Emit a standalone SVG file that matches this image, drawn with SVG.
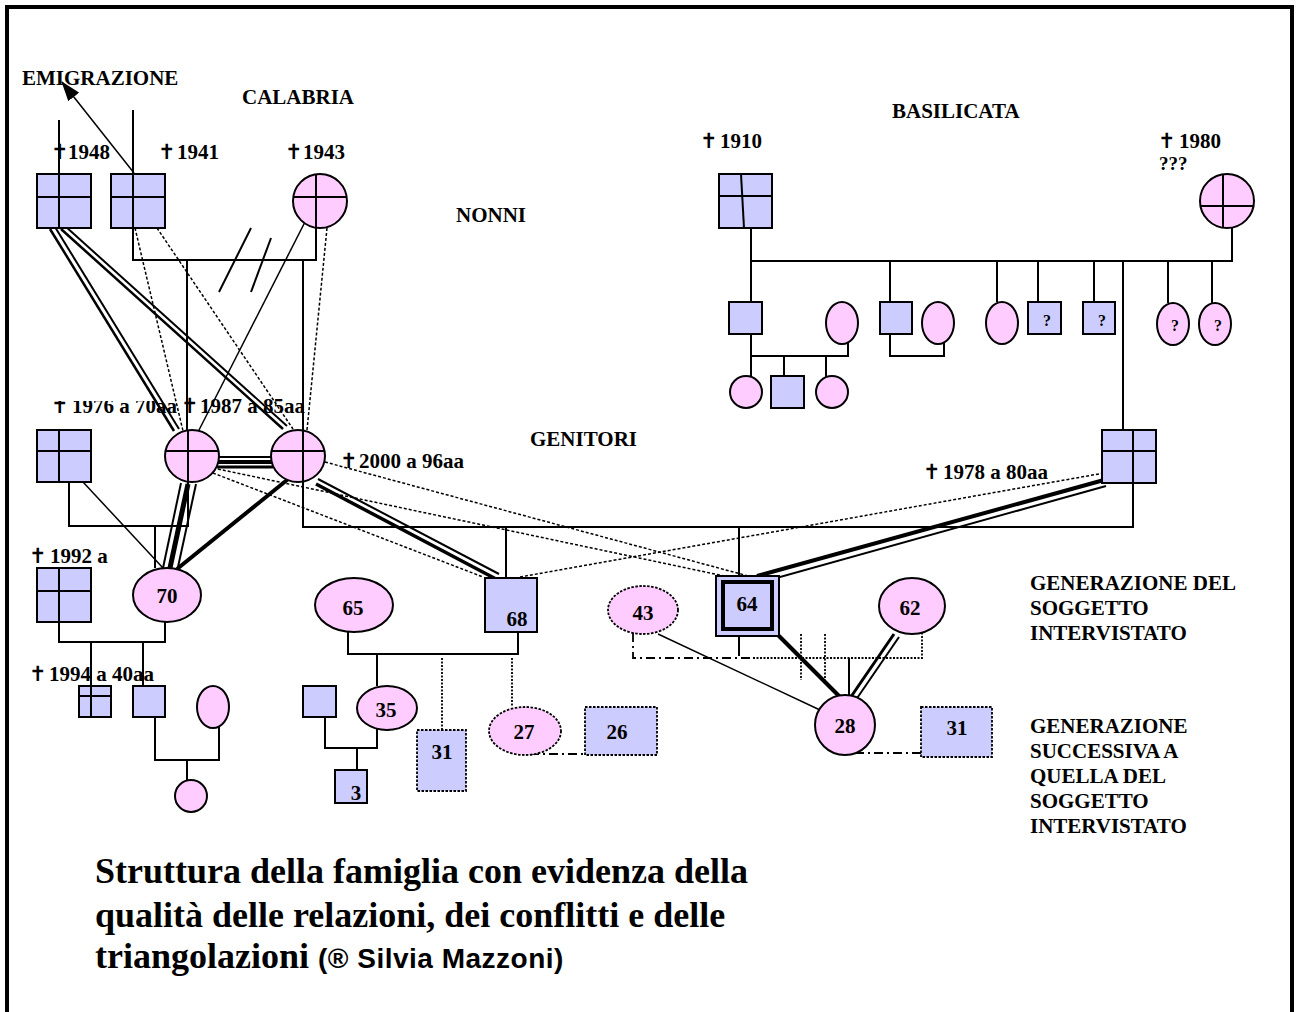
<svg xmlns="http://www.w3.org/2000/svg" width="1299" height="1012" viewBox="0 0 1299 1012">
<defs>
<style>
.m{fill:#CCCCFF;stroke:#000;stroke-width:2}
.f{fill:#FFCCFF;stroke:#000;stroke-width:2}
.md{fill:#CCCCFF;stroke:#000;stroke-width:1.8;stroke-dasharray:2.5,1.5}
.fd{fill:#FFCCFF;stroke:#000;stroke-width:1.8;stroke-dasharray:2.5,1.5}
.l{fill:none;stroke:#000;stroke-width:2}
.in{fill:none;stroke:#000;stroke-width:2}
.th{fill:none;stroke:#000;stroke-width:1.5}
.dl{fill:none;stroke:#000;stroke-width:1.5;stroke-dasharray:3,2}
.dt{fill:none;stroke:#000;stroke-width:1.8;stroke-dasharray:2,1.5}
.dd{fill:none;stroke:#000;stroke-width:1.8;stroke-dasharray:9,4,2,4}
.t{font-family:"Liberation Serif","Times New Roman",serif;font-weight:bold;font-size:21px;fill:#000}
.n{font-family:"Liberation Serif","Times New Roman",serif;font-weight:bold;font-size:21px;fill:#000;text-anchor:middle}
.q{font-family:"Liberation Serif","Times New Roman",serif;font-weight:bold;font-size:16px;fill:#000;text-anchor:middle}
.x{font-family:"DejaVu Sans",sans-serif;font-weight:bold;font-size:21px}
.ti{font-family:"Liberation Serif","Times New Roman",serif;font-weight:bold;font-size:36px;fill:#000}
.cr{font-family:"Liberation Sans",Arial,sans-serif;font-weight:bold;font-size:28px;letter-spacing:0.5px}
</style>
<marker id="arrw" viewBox="0 0 20 14" refX="19" refY="7" markerWidth="20" markerHeight="14" markerUnits="userSpaceOnUse" orient="auto">
<path d="M0,0 L20,7 L0,14 z" fill="#000"/>
</marker>
<clipPath id="c1976"><rect x="0" y="401" width="180" height="20"/></clipPath>
<clipPath id="c3"><rect x="335" y="770" width="32" height="32"/></clipPath>
</defs>
<rect x="0" y="0" width="1299" height="1012" fill="#fff"/>
<rect x="7" y="7" width="1285" height="1030" fill="none" stroke="#000" stroke-width="4"/>

<g id="labels">
<text class="t" x="22" y="85">EMIGRAZIONE</text>
<text class="t" x="242" y="104">CALABRIA</text>
<text class="t" x="456" y="222">NONNI</text>
<text class="t" x="892" y="118">BASILICATA</text>
<text class="t" x="530" y="446">GENITORI</text>
<text class="t" y="159"><tspan class="x" x="51">✝</tspan><tspan x="68">1948</tspan></text>
<text class="t" y="159"><tspan class="x" x="158">✝</tspan><tspan x="177">1941</tspan></text>
<text class="t" y="159"><tspan class="x" x="285">✝</tspan><tspan x="303">1943</tspan></text>
<text class="t" y="148"><tspan class="x" x="700">✝</tspan><tspan x="720">1910</tspan></text>
<text class="t" y="148"><tspan class="x" x="1158">✝</tspan><tspan x="1179">1980</tspan></text>
<text class="t" x="1159" y="170" style="font-size:19px">???</text>
<text class="t" y="413" clip-path="url(#c1976)"><tspan class="x" x="51">✝</tspan><tspan x="72">1976 a 70aa</tspan></text>
<text class="t" y="413"><tspan class="x" x="181">✝</tspan><tspan x="200">1987 a 85aa</tspan></text>
<text class="t" y="468"><tspan class="x" x="340">✝</tspan><tspan x="359">2000 a 96aa</tspan></text>
<text class="t" y="479"><tspan class="x" x="923">✝</tspan><tspan x="943">1978 a 80aa</tspan></text>
<text class="t" y="563"><tspan class="x" x="29">✝</tspan><tspan x="50">1992 a</tspan></text>
<text class="t" y="681"><tspan class="x" x="29">✝</tspan><tspan x="49">1994 a 40aa</tspan></text>
<text class="t" x="1030" y="590">GENERAZIONE DEL</text>
<text class="t" x="1030" y="615">SOGGETTO</text>
<text class="t" x="1030" y="640">INTERVISTATO</text>
<text class="t" x="1030" y="733">GENERAZIONE</text>
<text class="t" x="1030" y="758">SUCCESSIVA A</text>
<text class="t" x="1030" y="783">QUELLA DEL</text>
<text class="t" x="1030" y="808">SOGGETTO</text>
<text class="t" x="1030" y="833">INTERVISTATO</text>
<text class="ti" x="95" y="883">Struttura della famiglia con evidenza della</text>
<text class="ti" x="95" y="927">qualità delle relazioni, dei conflitti e delle</text>
<text class="ti" x="95" y="968">triangolazioni <tspan class="cr">(® Silvia Mazzoni)</tspan></text>
</g>

<g id="connectors">
<line class="l" x1="59" y1="120" x2="59" y2="228"/>
<line class="l" x1="133" y1="110" x2="133" y2="228"/>
<line class="th" x1="134" y1="173" x2="62" y2="82" marker-end="url(#arrw)"/>
<polyline class="l" points="133,228 133,260 316,260 316,228"/>
<line class="l" x1="187" y1="260" x2="187" y2="431"/>
<line class="l" x1="303" y1="260" x2="303" y2="431"/>
<line class="l" x1="251" y1="228" x2="219" y2="292"/>
<line class="l" x1="271" y1="238" x2="251" y2="292"/>
<line class="l" x1="50" y1="229" x2="174" y2="431" style="stroke-width:2.5"/>
<line class="l" x1="55" y1="227" x2="179" y2="429"/>
<line class="l" x1="61" y1="229" x2="283" y2="429" style="stroke-width:2.5"/>
<line class="l" x1="65" y1="226" x2="287" y2="426"/>
<line class="dl" x1="135" y1="228" x2="183" y2="431"/>
<line class="dl" x1="157" y1="228" x2="293" y2="429"/>
<line class="th" x1="306" y1="220" x2="198" y2="432"/>
<line class="dl" x1="327" y1="228" x2="307" y2="430"/>
<line class="l" x1="218" y1="457" x2="273" y2="457"/>
<line class="l" x1="218" y1="462" x2="273" y2="462" style="stroke-width:4"/>
<line class="l" x1="217" y1="467" x2="273" y2="467" style="stroke-width:3"/>
<polyline class="l" points="69,482 69,526 188,526 188,482"/>
<line class="l" x1="155" y1="526" x2="155" y2="568"/>
<polyline class="l" points="303,482 303,527 1133,527 1133,483"/>
<line class="l" x1="506" y1="527" x2="506" y2="578"/>
<line class="l" x1="739" y1="527" x2="739" y2="576"/>
<line class="l" x1="1123" y1="261" x2="1123" y2="430"/>
<line class="th" x1="83" y1="482" x2="163" y2="568"/>
<line class="l" x1="181" y1="483" x2="163" y2="568"/>
<line class="l" x1="188" y1="484" x2="170" y2="568" style="stroke-width:5"/>
<line class="l" x1="196" y1="484" x2="178" y2="567"/>
<line class="l" x1="287" y1="480" x2="177" y2="569" style="stroke-width:4"/>
<line class="l" x1="316" y1="484" x2="496" y2="579" style="stroke-width:3.5"/>
<line class="l" x1="318" y1="479" x2="499" y2="574"/>
<line class="dl" x1="213" y1="473" x2="483" y2="577"/>
<line class="dl" x1="213" y1="468" x2="729" y2="577"/>
<line class="dl" x1="325" y1="462" x2="752" y2="577"/>
<line class="dl" x1="520" y1="577" x2="1104" y2="473"/>
<line class="l" x1="1104" y1="480" x2="757" y2="576" style="stroke-width:4"/>
<line class="l" x1="1106" y1="486" x2="762" y2="582"/>
<polyline class="l" points="59,622 59,642 165,642 165,622"/>
<line class="l" x1="91" y1="642" x2="91" y2="686"/>
<line class="l" x1="143" y1="642" x2="143" y2="686"/>
<polyline class="l" points="155,717 155,760 219,760 219,727"/>
<line class="l" x1="187" y1="760" x2="187" y2="780"/>
<polyline class="l" points="348,632 348,654 518,654 518,632"/>
<line class="l" x1="377" y1="654" x2="377" y2="686"/>
<line class="dt" x1="442" y1="658" x2="442" y2="730"/>
<line class="dt" x1="512" y1="658" x2="512" y2="706"/>
<polyline class="l" points="325,717 325,748 377,748 377,729"/>
<line class="l" x1="357" y1="748" x2="357" y2="770"/>
<line class="dd" x1="530" y1="754" x2="585" y2="754"/>
<polyline class="dd" points="633,633 633,658 753,658"/>
<polyline class="dt" points="753,658 922,658 922,632"/>
<line class="l" x1="739" y1="636" x2="739" y2="656"/>
<line class="dt" x1="801" y1="634" x2="801" y2="680"/>
<line class="dt" x1="825" y1="634" x2="825" y2="680"/>
<line class="l" x1="849" y1="658" x2="849" y2="696"/>
<line class="l" x1="778" y1="635" x2="849" y2="706" style="stroke-width:4"/>
<line class="l" x1="894" y1="634" x2="846" y2="704" style="stroke-width:3"/>
<line class="l" x1="899" y1="637" x2="851" y2="707"/>
<line class="th" x1="658" y1="634" x2="820" y2="710"/>
<line class="dd" x1="855" y1="753" x2="921" y2="753"/>
<line class="l" x1="751" y1="228" x2="751" y2="261"/>
<polyline class="l" points="751,261 1232,261 1232,228"/>
<line class="l" x1="751" y1="261" x2="751" y2="302"/>
<line class="l" x1="890" y1="261" x2="890" y2="302"/>
<line class="l" x1="997" y1="261" x2="997" y2="302"/>
<line class="l" x1="1038" y1="261" x2="1038" y2="302"/>
<line class="l" x1="1094" y1="261" x2="1094" y2="302"/>
<line class="l" x1="1168" y1="261" x2="1168" y2="303"/>
<line class="l" x1="1212" y1="261" x2="1212" y2="303"/>
<polyline class="l" points="751,334 751,356 848,356 848,342"/>
<line class="l" x1="751" y1="356" x2="751" y2="377"/>
<line class="l" x1="784" y1="356" x2="784" y2="376"/>
<line class="l" x1="826" y1="356" x2="826" y2="377"/>
<polyline class="l" points="890,334 890,356 944,356 944,342"/>
</g>

<g id="n1948"><rect class="m" x="37" y="174" width="54" height="54"/><line class="in" x1="37" y1="197" x2="91" y2="197"/><line class="in" x1="59" y1="174" x2="59" y2="228"/></g>
<g id="n1941"><rect class="m" x="111" y="174" width="54" height="54"/><line class="in" x1="111" y1="197" x2="165" y2="197"/><line class="in" x1="133" y1="174" x2="133" y2="228"/></g>
<g id="n1943"><circle class="f" cx="320" cy="201" r="27"/><line class="in" x1="316" y1="174" x2="316" y2="228"/><line class="in" x1="293" y1="197" x2="347" y2="197"/></g>

<g id="n1910"><rect class="m" x="719" y="174" width="53" height="54"/><line class="in" x1="719" y1="196" x2="772" y2="196"/><line class="in" x1="741" y1="174" x2="744" y2="228"/></g>
<g id="n1980"><circle class="f" cx="1227" cy="201" r="27"/><line class="in" x1="1223" y1="174" x2="1223" y2="228"/><line class="in" x1="1200" y1="206" x2="1254" y2="206"/></g>
<g id="b1"><rect class="m" x="729" y="302" width="33" height="32"/></g>
<g id="b2"><ellipse class="f" cx="842" cy="323" rx="16" ry="21"/></g>
<g id="b3"><rect class="m" x="880" y="302" width="32" height="32"/></g>
<g id="b4"><ellipse class="f" cx="938" cy="323" rx="16" ry="21"/></g>
<g id="b5"><ellipse class="f" cx="1002" cy="323" rx="16" ry="21"/></g>
<g id="b6"><rect class="m" x="1028" y="302" width="33" height="32"/><text class="q" x="1047" y="326">?</text></g>
<g id="b7"><rect class="m" x="1083" y="302" width="32" height="32"/><text class="q" x="1102" y="326">?</text></g>
<g id="b8"><ellipse class="f" cx="1173" cy="324" rx="16" ry="21"/><text class="q" x="1175" y="331">?</text></g>
<g id="b9"><ellipse class="f" cx="1215" cy="324" rx="16" ry="21"/><text class="q" x="1218" y="331">?</text></g>
<g id="b10"><circle class="f" cx="746" cy="392" r="16"/></g>
<g id="b11"><rect class="m" x="771" y="376" width="33" height="32"/></g>
<g id="b12"><circle class="f" cx="832" cy="392" r="16"/></g>

<g id="n1976"><rect class="m" x="37" y="430" width="54" height="52"/><line class="in" x1="37" y1="451" x2="91" y2="451"/><line class="in" x1="59" y1="430" x2="59" y2="482"/></g>
<g id="c1"><ellipse class="f" cx="192" cy="456" rx="27" ry="26"/><line class="in" x1="188" y1="430" x2="188" y2="482"/><line class="in" x1="165" y1="451" x2="219" y2="451"/></g>
<g id="c2"><ellipse class="f" cx="298" cy="456" rx="27" ry="26"/><line class="in" x1="303" y1="430" x2="303" y2="482"/><line class="in" x1="271" y1="451" x2="325" y2="451"/></g>
<g id="n1978"><rect class="m" x="1102" y="430" width="54" height="53"/><line class="in" x1="1102" y1="451" x2="1156" y2="451"/><line class="in" x1="1133" y1="430" x2="1133" y2="483"/></g>

<g id="n70"><ellipse class="f" cx="167" cy="595" rx="34" ry="27"/><text class="n" x="167" y="603">70</text></g>
<g id="n1992"><rect class="m" x="37" y="568" width="54" height="54"/><line class="in" x1="37" y1="591" x2="91" y2="591"/><line class="in" x1="59" y1="568" x2="59" y2="622"/></g>
<g id="n1994"><rect class="m" x="79" y="686" width="32" height="31"/><line class="in" x1="79" y1="696" x2="111" y2="696"/><line class="in" x1="91" y1="686" x2="91" y2="717"/></g>
<g id="s133"><rect class="m" x="133" y="686" width="32" height="31"/></g>
<g id="e213"><ellipse class="f" cx="213" cy="707" rx="16" ry="21"/></g>
<g id="c191"><circle class="f" cx="191" cy="796" r="16"/></g>

<g id="n65"><ellipse class="f" cx="354" cy="605" rx="39" ry="27"/><text class="n" x="353" y="615">65</text></g>
<g id="n68"><rect class="m" x="485" y="578" width="52" height="54"/><text class="n" x="517" y="626">68</text></g>
<g id="n35"><ellipse class="f" cx="387" cy="708" rx="30" ry="22"/><text class="n" x="386" y="717">35</text></g>
<g id="s303"><rect class="m" x="303" y="686" width="33" height="31"/></g>
<g id="n3"><rect class="m" x="335" y="770" width="32" height="33"/><text class="n" x="356" y="800" clip-path="url(#c3)">3</text></g>
<g id="n31a"><rect class="md" x="417" y="730" width="49" height="61"/><text class="n" x="442" y="759">31</text></g>
<g id="n27"><ellipse class="fd" cx="525" cy="731" rx="36" ry="24"/><text class="n" x="524" y="739">27</text></g>
<g id="n26"><rect class="md" x="585" y="707" width="72" height="48"/><text class="n" x="617" y="739">26</text></g>
<g id="n43"><ellipse class="fd" cx="643" cy="610" rx="35" ry="24"/><text class="n" x="643" y="620">43</text></g>
<g id="n64"><rect class="m" x="716" y="576" width="63" height="60"/><rect x="723" y="582" width="49" height="47" fill="#CCCCFF" stroke="#000" stroke-width="4"/><text class="n" x="747" y="611">64</text></g>
<g id="n62"><ellipse class="f" cx="912" cy="606" rx="33" ry="28"/><text class="n" x="910" y="615">62</text></g>
<g id="n28"><circle class="f" cx="845" cy="725" r="30"/><text class="n" x="845" y="733">28</text></g>
<g id="n31b"><rect class="md" x="921" y="707" width="71" height="50"/><text class="n" x="957" y="735">31</text></g>
</svg>
